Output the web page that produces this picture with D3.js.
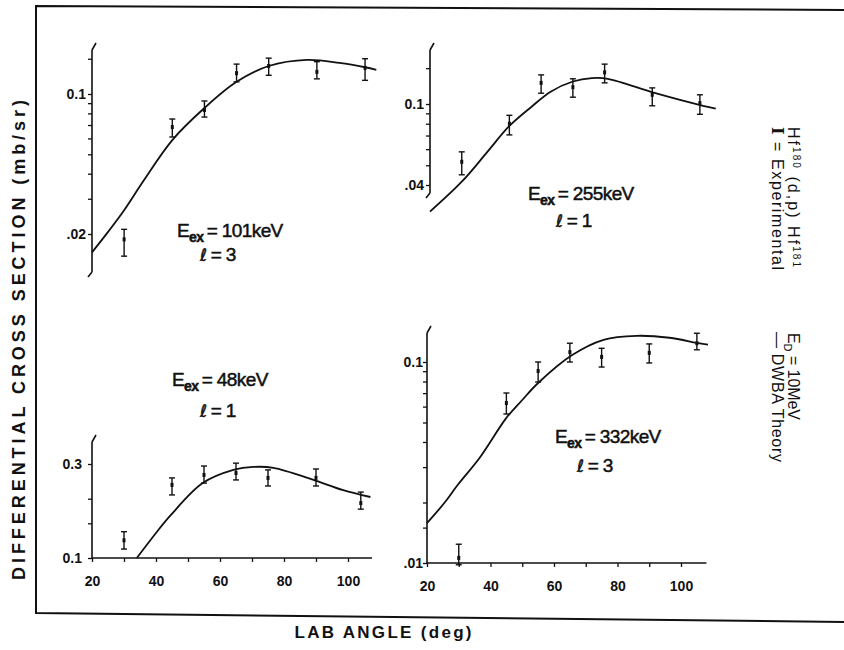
<!DOCTYPE html>
<html>
<head>
<meta charset="utf-8">
<script src="https://cdn.jsdelivr.net/npm/d3@7"></script>
<style>
  body { margin: 0; background: #fff; }
  svg { display: block; }
  text { font-family: "Liberation Sans", Arial, sans-serif; fill: #111; }
</style>
</head>
<body>
<div id="chart"></div>
<script>
const width = 844, height = 650;
const ink = "#111";

// Panel A : Eex = 101 keV, l = 3 (top left)
const anglesA = [30, 45, 55, 65, 75, 90, 105];
const sigmaA = [0.0188, 0.0684, 0.0832, 0.127, 0.138, 0.129, 0.135];
const loA = [0.0155, 0.061, 0.0767, 0.115, 0.124, 0.119, 0.117];
const hiA = [0.0211, 0.075, 0.0923, 0.141, 0.151, 0.145, 0.150];
const theoryAnglesA = [20, 25, 30, 36, 45, 55, 65, 75, 87, 97, 105, 108.5];
const theoryA = [0.0162, 0.0205, 0.0263, 0.0368, 0.0589, 0.0851, 0.115, 0.138, 0.148, 0.143, 0.136, 0.132];

// Panel B : Eex = 255 keV, l = 1 (top right)
const anglesB = [30, 45, 55, 65, 75, 90, 105];
const sigmaB = [0.052, 0.080, 0.127, 0.121, 0.143, 0.111, 0.101];
const loB = [0.0449, 0.0705, 0.113, 0.108, 0.127, 0.098, 0.089];
const hiB = [0.0582, 0.088, 0.139, 0.133, 0.157, 0.120, 0.111];
const theoryAnglesB = [20, 30, 38, 45, 52, 58, 65, 71, 76, 91, 106, 110];
const theoryB = [0.0296, 0.0415, 0.058, 0.078, 0.097, 0.115, 0.129, 0.134, 0.133, 0.113, 0.098, 0.095];

// Panel C : Eex = 48 keV, l = 1 (bottom left)
const anglesC = [30, 45, 55, 65, 75, 90, 104];
const sigmaC = [0.123, 0.235, 0.264, 0.270, 0.255, 0.255, 0.190];
const loC = [0.111, 0.209, 0.240, 0.249, 0.232, 0.232, 0.177];
const hiC = [0.136, 0.255, 0.293, 0.303, 0.280, 0.283, 0.216];
const theoryAnglesC = [34, 40, 44.6, 54.6, 64.2, 70.5, 76.7, 89, 98.5, 107];
const theoryC = [0.100, 0.134, 0.165, 0.240, 0.280, 0.290, 0.287, 0.250, 0.221, 0.204];

// Panel D : Eex = 332 keV, l = 3 (bottom right)
const anglesD = [30, 45, 55, 65, 75, 90, 105];
const sigmaD = [0.0106, 0.0625, 0.0902, 0.112, 0.106, 0.111, 0.124];
const loD = [0.0098, 0.0551, 0.0795, 0.100, 0.0944, 0.0989, 0.115];
const hiD = [0.0124, 0.0701, 0.100, 0.124, 0.117, 0.123, 0.139];
const theoryAnglesD = [20, 25.7, 29.7, 36.6, 45, 50, 55, 65.6, 75.6, 86, 96.4, 105.5, 108.5];
const theoryD = [0.0158, 0.0201, 0.0245, 0.0334, 0.0527, 0.0647, 0.0786, 0.108, 0.129, 0.135, 0.132, 0.124, 0.122];

// tick values and labels
const xTicks = [20, 30, 40, 50, 60, 70, 80, 90, 100];
const xTickLabels = ["20", "", "40", "", "60", "", "80", "", "100"];
const yTicksA = [0.02, 0.03, 0.04, 0.05, 0.06, 0.07, 0.08, 0.09, 0.1, 0.15];
const yTicksB = [0.04, 0.05, 0.06, 0.07, 0.08, 0.09, 0.1, 0.15];
const yTicksC = [0.1, 0.15, 0.2, 0.3];
const yTicksD = [0.01, 0.015, 0.02, 0.03, 0.04, 0.05, 0.06, 0.07, 0.08, 0.09, 0.1];
const yLabelsA = { 0.1: "0.1", 0.02: ".02" };
const yLabelsB = { 0.1: "0.1", 0.04: ".04" };
const yLabelsC = { 0.3: "0.3", 0.1: "0.1" };
const yLabelsD = { 0.1: "0.1", 0.01: ".01" };

const energies = ["101", "255", "48", "332"];
const ells = ["3", "1", "1", "3"];

// layout of the four panels (pixels)
const panels = [
  { angles: anglesA, sigma: sigmaA, lo: loA, hi: hiA, tAng: theoryAnglesA, t: theoryA,
    ticks: yTicksA, labels: yLabelsA, xr: [92, 349], yr: [[0.02, 234], [0.1, 94]],
    top: 50, bottom: 272, pad: 2, xAxis: false,
    e: energies[0], l: ells[0], lab1: [177, 237], lab2: [200, 261] },
  { angles: anglesB, sigma: sigmaB, lo: loB, hi: hiB, tAng: theoryAnglesB, t: theoryB,
    ticks: yTicksB, labels: yLabelsB, xr: [430, 684], yr: [[0.04, 185], [0.1, 104]],
    top: 50, bottom: 193, pad: 2, xAxis: false,
    e: energies[1], l: ells[1], lab1: [528, 200], lab2: [556, 227] },
  { angles: anglesC, sigma: sigmaC, lo: loC, hi: hiC, tAng: theoryAnglesC, t: theoryC,
    ticks: yTicksC, labels: yLabelsC, xr: [92, 348], yr: [[0.1, 558], [0.3, 464]],
    top: 442, bottom: 558, pad: 6, xAxis: true, xEnd: 107.5,
    e: energies[2], l: ells[2], lab1: [172, 386], lab2: [200, 417] },
  { angles: anglesD, sigma: sigmaD, lo: loD, hi: hiD, tAng: theoryAnglesD, t: theoryD,
    ticks: yTicksD, labels: yLabelsD, xr: [427, 681], yr: [[0.01, 563], [0.1, 362]],
    top: 333, bottom: 563, pad: 0, xAxis: true, xEnd: 108,
    e: energies[3], l: ells[3], lab1: [555, 443], lab2: [577, 472] }
];

const svg = d3.select("#chart").append("svg")
  .attr("width", width).attr("height", height);

// outer frame
svg.append("path")
  .attr("d", "M844,10 L36,6 L36,613 L844,622")
  .attr("fill", "none").attr("stroke", ink).attr("stroke-width", 2);

panels.forEach((p) => drawPanel(p));

function drawPanel(p) {
  const g = svg.append("g");
  const x = d3.scaleLinear().domain([20, 100]).range(p.xr);
  const y = d3.scaleLog().domain([p.yr[0][0], p.yr[1][0]]).range([p.yr[0][1], p.yr[1][1]]);
  const x0 = x(20);

  // y axis
  const yAxis = g.append("g").attr("transform", `translate(${x0},0)`)
    .call(d3.axisLeft(y).tickValues(p.ticks).tickSize(4).tickPadding(p.pad)
      .tickFormat((d) => p.labels[d] || ""));
  yAxis.select(".domain").remove();
  yAxis.selectAll("line").attr("stroke", ink).attr("stroke-width", 1.3);
  yAxis.selectAll("text").attr("font-size", 14).attr("font-weight", "bold")
    .attr("font-family", "'Liberation Sans', Arial, sans-serif").attr("fill", ink);

  g.append("line").attr("x1", x0).attr("x2", x0).attr("y1", p.top).attr("y2", p.bottom)
    .attr("stroke", ink).attr("stroke-width", 1.6);
  // hand-drawn break flicks at axis ends
  g.append("path").attr("d", `M${x0},${p.top} L${x0 + 4},${p.top - 7}`)
    .attr("stroke", ink).attr("stroke-width", 1.6).attr("fill", "none");
  if (!p.xAxis) {
    g.append("path").attr("d", `M${x0},${p.bottom} L${x0 - 4},${p.bottom + 5}`)
      .attr("stroke", ink).attr("stroke-width", 1.6).attr("fill", "none");
  }

  // x axis
  if (p.xAxis) {
    const xAxis = g.append("g").attr("transform", `translate(0,${p.bottom})`)
      .call(d3.axisBottom(x).tickValues(xTicks).tickSize(4).tickPadding(14)
        .tickFormat((d, i) => xTickLabels[i]));
    xAxis.select(".domain").remove();
    xAxis.selectAll("line").attr("stroke", ink).attr("stroke-width", 1.3);
    xAxis.selectAll("text").attr("font-size", 14).attr("font-weight", "bold")
      .attr("font-family", "'Liberation Sans', Arial, sans-serif").attr("fill", ink);
    g.append("line").attr("x1", x0).attr("x2", x(p.xEnd)).attr("y1", p.bottom).attr("y2", p.bottom)
      .attr("stroke", ink).attr("stroke-width", 1.6);
  }

  // DWBA theory curve
  const line = d3.line()
    .x((d, i) => x(p.tAng[i]))
    .y((d) => y(d))
    .curve(d3.curveCatmullRom.alpha(0.5));
  g.append("path").datum(p.t).attr("d", line)
    .attr("fill", "none").attr("stroke", ink).attr("stroke-width", 1.8);

  // experimental points with error bars
  const pts = g.selectAll(".pt").data(p.angles).enter().append("g").attr("class", "pt");
  pts.append("line")
    .attr("x1", (d) => x(d)).attr("x2", (d) => x(d))
    .attr("y1", (d, i) => y(p.hi[i])).attr("y2", (d, i) => y(p.lo[i]))
    .attr("stroke", ink).attr("stroke-width", 1.4);
  pts.append("line")
    .attr("x1", (d) => x(d) - 3).attr("x2", (d) => x(d) + 3)
    .attr("y1", (d, i) => y(p.hi[i])).attr("y2", (d, i) => y(p.hi[i]))
    .attr("stroke", ink).attr("stroke-width", 1.4);
  pts.append("line")
    .attr("x1", (d) => x(d) - 3).attr("x2", (d) => x(d) + 3)
    .attr("y1", (d, i) => y(p.lo[i])).attr("y2", (d, i) => y(p.lo[i]))
    .attr("stroke", ink).attr("stroke-width", 1.4);
  pts.append("rect")
    .attr("x", (d) => x(d) - 1.5).attr("y", (d, i) => y(p.sigma[i]) - 2)
    .attr("width", 3).attr("height", 4).attr("fill", ink);

  // level labels
  const t1 = g.append("text").attr("x", p.lab1[0]).attr("y", p.lab1[1])
    .attr("font-size", 19).attr("letter-spacing", -0.6)
    .attr("stroke", ink).attr("stroke-width", 0.5).attr("fill", ink);
  t1.append("tspan").text("E");
  t1.append("tspan").attr("dy", 5).attr("font-size", 14).attr("font-weight", "bold").text("ex");
  t1.append("tspan").attr("dy", -5).text(`\u2009= ${p.e}keV`);

  const t2 = g.append("text").attr("x", p.lab2[0]).attr("y", p.lab2[1])
    .attr("font-size", 19).attr("stroke", ink).attr("stroke-width", 0.5).attr("fill", ink);
  t2.append("tspan").attr("font-family", "'DejaVu Sans', sans-serif").attr("font-size", 17).text("ℓ");
  t2.append("tspan").text(`\u2009=\u2009${p.l}`);
}

// axis titles
svg.append("text")
  .attr("transform", "translate(25,340) rotate(-90)")
  .attr("text-anchor", "middle").attr("font-size", 18).attr("font-weight", "bold")
  .attr("textLength", 480).attr("lengthAdjust", "spacing")
  .text("DIFFERENTIAL CROSS SECTION (mb/sr)");

svg.append("text")
  .attr("x", 383).attr("y", 638)
  .attr("text-anchor", "middle").attr("font-size", 17).attr("font-weight", "bold")
  .attr("textLength", 177).attr("lengthAdjust", "spacing")
  .text("LAB ANGLE (deg)");

// right-hand notes (rotated)
const r1 = svg.append("text").attr("transform", "translate(788,127) rotate(90)")
  .attr("font-size", 16).attr("textLength", 140).attr("lengthAdjust", "spacing");
r1.append("tspan").text("Hf");
r1.append("tspan").attr("dy", -5).attr("font-size", 10).text("180");
r1.append("tspan").attr("dy", 5).text(" (d,p) Hf");
r1.append("tspan").attr("dy", -5).attr("font-size", 10).text("181");

const r2 = svg.append("text").attr("transform", "translate(772,127) rotate(90)")
  .attr("font-size", 16).attr("textLength", 143).attr("lengthAdjust", "spacing");
r2.append("tspan").attr("font-family", "'DejaVu Serif', serif").attr("font-weight", "bold").text("I");
r2.append("tspan").text(" = Experimental");

const r3 = svg.append("text").attr("transform", "translate(788,333) rotate(90)")
  .attr("font-size", 16).attr("textLength", 87).attr("lengthAdjust", "spacing");
r3.append("tspan").text("E");
r3.append("tspan").attr("dy", 4).attr("font-size", 11).text("D");
r3.append("tspan").attr("dy", -4).text(" = 10MeV");

svg.append("text").attr("transform", "translate(772,332) rotate(90)")
  .attr("font-size", 16).attr("textLength", 130).attr("lengthAdjust", "spacing")
  .text("— DWBA  Theory");
</script>
</body>
</html>
